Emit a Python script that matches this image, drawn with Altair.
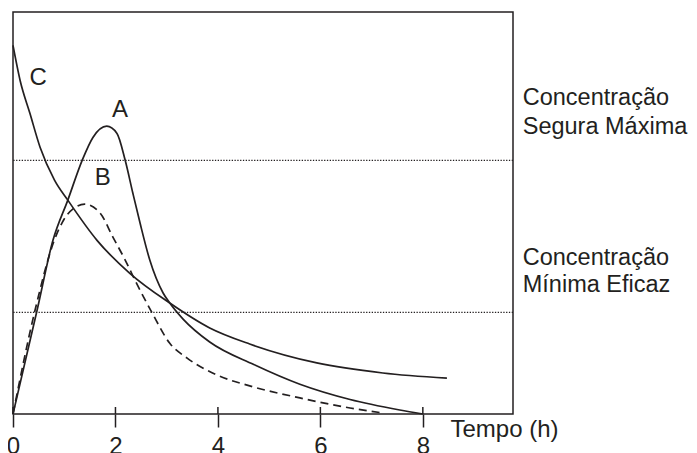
import altair as alt
import pandas as pd

# ---- data ----
A_x = [0, 0.47, 0.78, 1.07, 1.35, 1.56, 1.83, 2.03, 2.19, 2.34, 2.48, 2.67, 2.93, 3.06, 3.32, 3.84, 4.70, 5.60, 6.58, 7.55, 8.0]
A_y = [0, 25.8, 43.2, 53.2, 63.1, 68.8, 71.6, 69.8, 63.1, 54.9, 47.5, 38.3, 30.1, 27.6, 23.6, 17.9, 12.3, 7.4, 3.6, 1.0, 0]

B_x = [0, 0.43, 0.80, 1.0, 1.2, 1.40, 1.70, 1.95, 2.19, 2.38, 2.71, 3.06, 3.40, 3.98, 4.62, 5.60, 6.58, 7.22]
B_y = [0, 25.8, 43.0, 48.5, 51.3, 52.2, 50.0, 44.0, 38.3, 33.3, 25.3, 17.6, 13.9, 9.7, 7.0, 4.0, 1.5, 0.25]

C_x = [0, 0.14, 0.33, 0.53, 0.81, 1.07, 1.64, 2.28, 3.06, 3.84, 4.62, 5.93, 7.22, 8.47]
C_y = [91.7, 82.9, 74.8, 66.3, 58.2, 53.2, 43.2, 35.0, 27.6, 21.4, 17.4, 12.7, 10.2, 8.9]

level_names = ["Concentração Segura Máxima", "Concentração Mínima Eficaz"]
level_values = [63.1, 25.3]

tick_values = [0, 2, 4, 6, 8]

curve_labels = ["A", "B", "C"]
curve_label_x = [2.09, 1.75, 0.49]
curve_label_y = [75.6, 58.7, 83.6]

side_labels = ["Concentração", "Segura Máxima", "Concentração", "Mínima Eficaz"]
side_label_x = [9.95, 9.95, 9.95, 9.95]
side_label_y = [78.6, 71.5, 38.8, 32.1]

axis_title = "Tempo (h)"
axis_title_x = 8.54
axis_title_y = -3.9

INK = "#231f20"
FONT = "Liberation Sans"
FS = 24
FS_SIDE = 23.5

xscale = alt.Scale(domain=[0, 9.76], nice=False, zero=False)
yscale = alt.Scale(domain=[0, 100], nice=False, zero=False)


def X(field="x"):
    return alt.X(f"{field}:Q", scale=xscale,
                 axis=alt.Axis(values=tick_values, title=None, grid=False, domain=False,
                               ticks=True, tickSize=13, tickWidth=1.5, tickColor=INK,
                               labelFont=FONT, labelFontSize=FS, labelColor=INK,
                               labelPadding=7, labelFlush=False, labelOverlap=False))


def Y(field="y"):
    return alt.Y(f"{field}:Q", scale=yscale, axis=None)


dfA = pd.DataFrame({"x": A_x, "y": A_y})
dfB = pd.DataFrame({"x": B_x, "y": B_y})
dfC = pd.DataFrame({"x": C_x, "y": C_y})
dfLev = pd.DataFrame({"name": level_names, "y": level_values})
dfTicks = pd.DataFrame({"x": tick_values})
dfCurveLab = pd.DataFrame({"x": curve_label_x, "y": curve_label_y, "t": curve_labels})
dfSide = pd.DataFrame({"x": side_label_x, "y": side_label_y, "t": side_labels})
dfTitle = pd.DataFrame({"x": [axis_title_x], "y": [axis_title_y], "t": [axis_title]})

levels = alt.Chart(dfLev).mark_rule(color=INK, strokeWidth=1.3, strokeDash=[1.3, 1.5]).encode(y=Y())

lineA = alt.Chart(dfA).mark_line(color=INK, strokeWidth=1.7, interpolate="monotone").encode(x=X(), y=Y())
lineC = alt.Chart(dfC).mark_line(color=INK, strokeWidth=1.7, interpolate="monotone").encode(x=X(), y=Y())
lineB = alt.Chart(dfB).mark_line(color=INK, strokeWidth=1.7, interpolate="monotone",
                                 strokeDash=[8, 5]).encode(x=X(), y=Y())

ticks_up = alt.Chart(dfTicks).mark_rule(color=INK, strokeWidth=1.5).encode(
    x=X(), y=alt.value(395), y2=alt.value(402))

curve_text = alt.Chart(dfCurveLab).mark_text(font=FONT, fontSize=FS, color=INK, align="center",
                                             baseline="middle").encode(x=X(), y=Y(), text="t:N")
side_text = alt.Chart(dfSide).mark_text(font=FONT, fontSize=FS_SIDE, color=INK, align="left",
                                        baseline="middle").encode(x=X(), y=Y(), text="t:N")
title_text = alt.Chart(dfTitle).mark_text(font=FONT, fontSize=FS, color=INK, align="left",
                                          baseline="middle").encode(x=X(), y=Y(), text="t:N")

chart = alt.layer(levels, lineC, lineA, lineB, ticks_up, curve_text, side_text, title_text).properties(
    width=500, height=402,
    padding={"left": 5, "top": 4, "right": 176, "bottom": 39},
    autosize=alt.AutoSizeParams(type="none"),
    background="white",
).configure_view(stroke=INK, strokeWidth=1.5)

chart.save("out.html", embed_options={"renderer": "svg", "actions": False})
